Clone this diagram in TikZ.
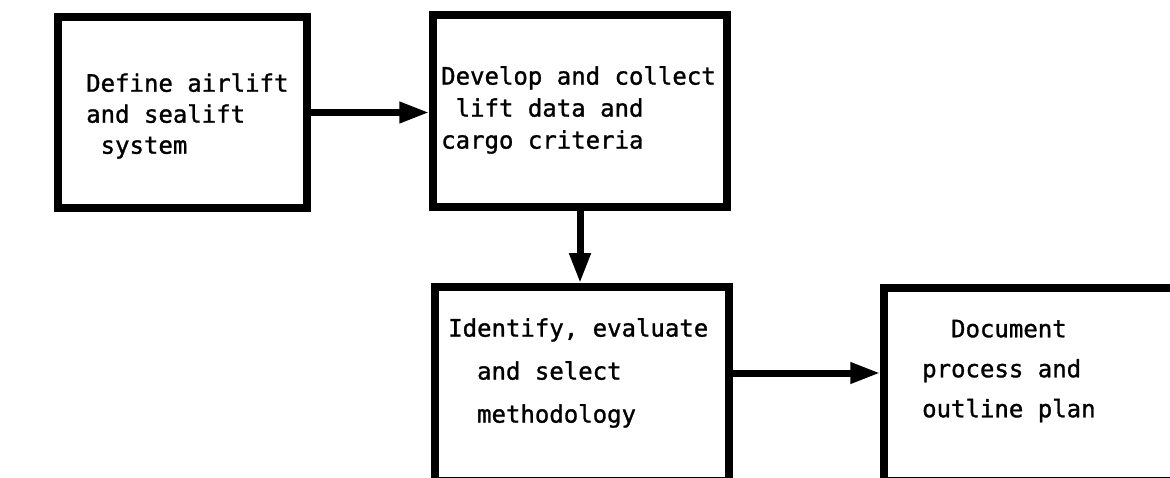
\documentclass[tikz,border=0pt]{standalone}
\usepackage{fontspec}
\newfontfamily\typefont[FakeBold=1.2]{DejaVu Sans Mono}
\usetikzlibrary{arrows.meta}
\begin{document}
\begin{tikzpicture}[x=1pt,y=-1pt,
  box/.style={draw=black, line width=7.5pt, inner sep=0pt},
  txt/.style={align=left, inner sep=0pt, anchor=west, font=\typefont\fontsize{24}{#1}\selectfont},
  arr/.style={line width=7pt, -{Triangle[length=30pt,width=20pt]}}]
\clip (0,0) rectangle (1170,478);
\fill[white] (0,0) rectangle (1170,478);
\node[box, minimum width=249pt, minimum height=191pt] (b1) at (182.5,112.5) {};
\node[box, minimum width=294pt, minimum height=192pt] (b2) at (580,111) {};
\node[box, minimum width=294pt, minimum height=194pt] (b3) at (582,384) {};
\node[box, minimum width=316pt, minimum height=193pt] (b4) at (1042,384.5) {};
\node[txt=31pt] (t1) at (86,116) {Define airlift\\and sealift\\\hphantom{s}system};
\node[txt=32pt] (t2) at (441,110) {Develop and collect\\\hphantom{s}lift data and\\cargo criteria};
\node[txt=43pt] (t3) at (448,373) {Identify, evaluate\\\hphantom{ss}and select\\\hphantom{ss}methodology};
\node[txt=40pt] (t4) at (922,371) {\hphantom{ss}Document\\process and\\outline plan};
\draw[arr] (b1.east) -- (b1.east -| b2.west);
\draw[arr] (b2.south) -- (b2.south |- b3.north);
\draw[arr] (t3.west -| b3.east) -- (t3.west -| b4.west);
\end{tikzpicture}
\end{document}
